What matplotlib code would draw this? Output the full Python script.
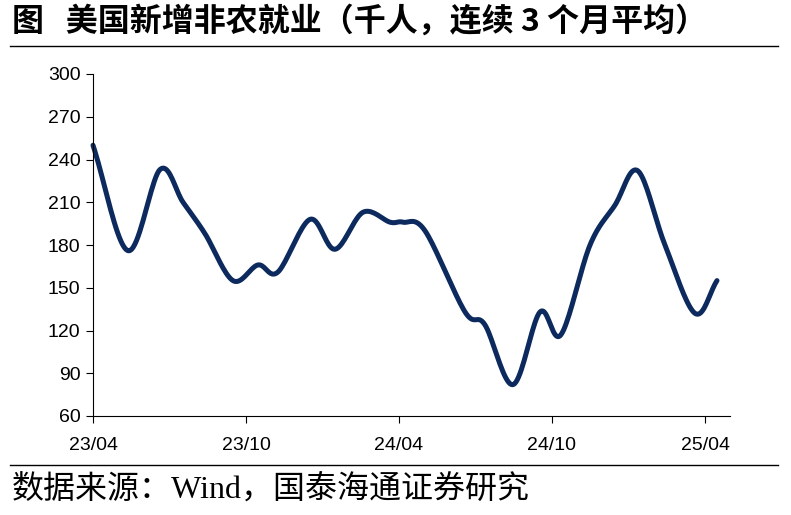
import numpy as np
import matplotlib.pyplot as plt
from matplotlib.lines import Line2D

# month offsets from 2023-04 and 3-month average nonfarm payroll change (thousands)
months = [0, 1.37, 2.63, 3.53, 4.39, 5.49, 6.47, 7.25, 8.51, 9.49, 10.59, 11.65,
          12.16, 13.02, 14.59, 15.37, 16.47, 17.53, 18.35, 19.49, 20.47, 21.37,
          22.43, 23.61, 24.47]
payrolls = [250, 176, 233, 210, 188, 155, 166, 161, 198, 177, 203, 196,
            196, 190, 133, 124, 82, 133, 117, 180, 208, 232, 180, 132, 155]
tick_pos = [0, 6, 12, 18, 24]
tick_labels = ['23/04', '23/10', '24/04', '24/10', '25/04']
y_ticks = [60, 90, 120, 150, 180, 210, 240, 270, 300]

plt.rcParams['font.family'] = ['Liberation Serif', 'Noto Sans CJK SC']


def catmull_rom(x, y, n=20):
    x = np.asarray(x, float)
    y = np.asarray(y, float)
    px = np.concatenate([[2 * x[0] - x[1]], x, [2 * x[-1] - x[-2]]])
    py = np.concatenate([[2 * y[0] - y[1]], y, [2 * y[-1] - y[-2]]])
    xs, ys = [], []
    t = np.linspace(0, 1, n, endpoint=False)
    for i in range(1, len(px) - 2):
        for p, out in ((px, xs), (py, ys)):
            p0, p1, p2, p3 = p[i - 1], p[i], p[i + 1], p[i + 2]
            out.append(0.5 * (2 * p1 + (-p0 + p2) * t + (2 * p0 - 5 * p1 + 4 * p2 - p3) * t ** 2
                              + (-p0 + 3 * p1 - 3 * p2 + p3) * t ** 3))
    xs.append([x[-1]])
    ys.append([y[-1]])
    return np.concatenate(xs), np.concatenate(ys)


fig = plt.figure(figsize=(7.91, 5.15), dpi=100)
ax = fig.add_axes([93 / 791, 1 - 416 / 515, (730 - 93) / 791, (416 - 74) / 515])

sx, sy = catmull_rom(months, payrolls)
ax.plot(sx, sy, color='#0d2a5e', lw=3.6, solid_capstyle='round', clip_on=False)

ax.set_xlim(0, (730 - 93) / 25.5)
ax.set_ylim(60, 300)
ax.set_yticks(y_ticks)
ax.set_xticks(tick_pos)
ax.set_xticklabels(tick_labels, fontsize=14, fontfamily='Liberation Sans')
ax.set_yticklabels([str(v) for v in y_ticks], fontsize=14, fontfamily='Liberation Sans')
ax.tick_params(axis='x', direction='out', length=5, pad=10)
ax.tick_params(axis='y', direction='out', length=5, pad=4)
for s in ('top', 'right'):
    ax.spines[s].set_visible(False)

fig.text(12 / 791, 1 - 22 / 515, '图   美国新增非农就业（千人，连续 3 个月平均）',
         fontsize=23, fontweight='bold', fontfamily='Noto Sans CJK SC', va='center')
fig.add_artist(Line2D([10 / 791, 778 / 791], [1 - 46 / 515] * 2, color='black', lw=1))
fig.add_artist(Line2D([10 / 791, 778 / 791], [1 - 465 / 515] * 2, color='black', lw=1))
fig.text(12 / 791, 1 - 490 / 515, '数据来源：Wind，国泰海通证券研究', fontsize=23,
         fontfamily=['Liberation Serif', 'Noto Sans CJK SC'], va='center')

fig.savefig('out.png', dpi=100)
